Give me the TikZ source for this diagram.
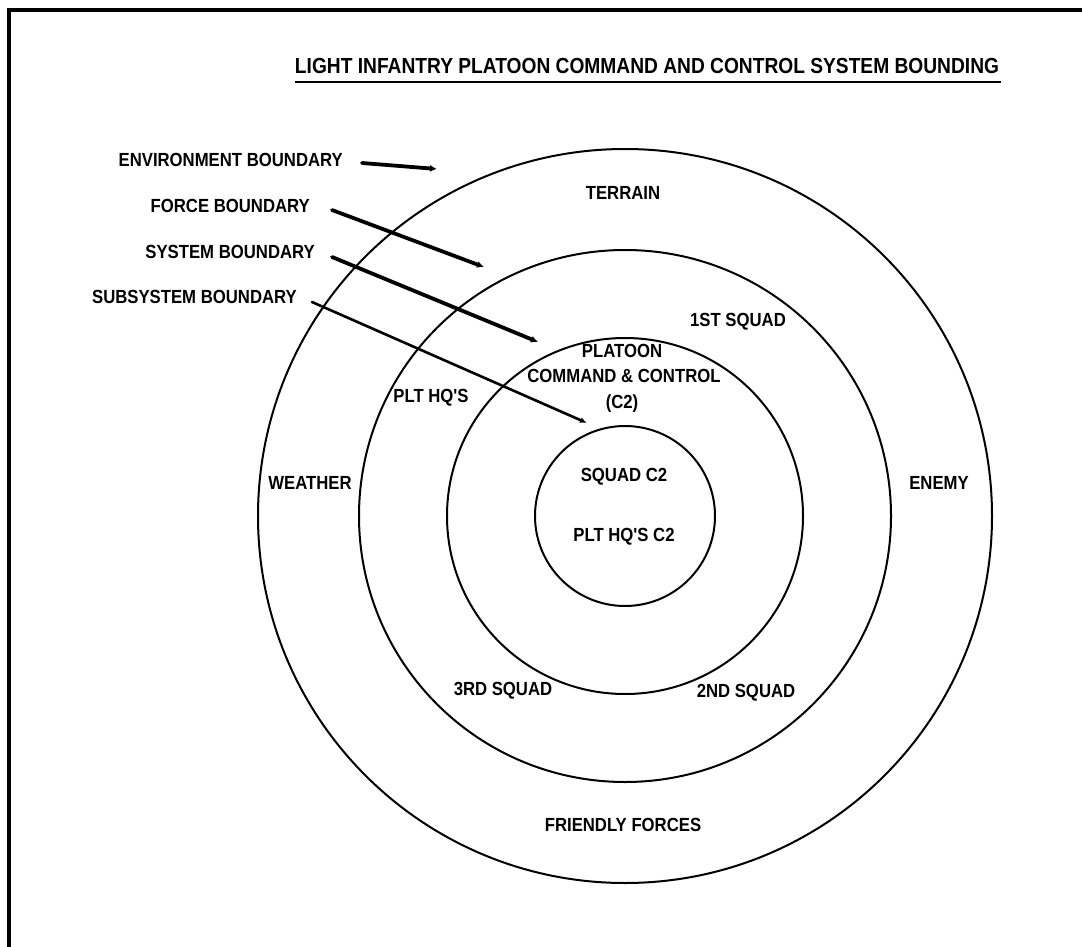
\documentclass[tikz,border=0pt]{standalone}
\usepackage{fontspec}
\newfontfamily\labfont{Liberation Sans}[FakeStretch=0.88]
\usetikzlibrary{arrows.meta,calc}
\begin{document}
\begin{tikzpicture}[x=1pt,y=-1pt,
  lab/.style={font=\labfont\bfseries\fontsize{19}{21}\selectfont, inner sep=0pt, align=center},
  titlelab/.style={font=\labfont\bfseries\fontsize{21.8}{24}\selectfont, inner sep=0pt},
  ring/.style={draw, line width=2pt},
  ptr/.style={line width=3.8pt, line cap=round, -{Latex[length=7pt,width=7pt]}},
  thinptr/.style={line width=2.6pt, line cap=round, -{Latex[length=7pt,width=6pt]}},
  frameline/.style={line width=3.5pt}
]
\useasboundingbox (0,0) rectangle (1082,947);
% frame (top and left edges visible)
\draw[frameline] (9,947) -- (9,10) -- (1082,10);

% title
\node[titlelab] (title) at (647,66) {LIGHT INFANTRY PLATOON COMMAND AND CONTROL SYSTEM BOUNDING};
\draw[line width=2pt] ($(title.south west)+(0,8)$) -- ($(title.south east)+(2,8)$);

% rings
\coordinate (ctr) at (625,516);
\draw[ring] (ctr) circle[radius=367];
\draw[ring] (ctr) circle[radius=266];
\draw[ring] (ctr) circle[radius=178];
\draw[ring] (ctr) circle[radius=90];

% boundary labels
\node[lab, anchor=east] (envlbl) at (343,160) {ENVIRONMENT BOUNDARY};
\node[lab, anchor=east] (forcelbl) at (310,206) {FORCE BOUNDARY};
\node[lab, anchor=east] (syslbl) at (315,252) {SYSTEM BOUNDARY};
\node[lab, anchor=east] (subsyslbl) at (297,297) {SUBSYSTEM BOUNDARY};

\coordinate (envtip) at (437,169);
\coordinate (forcetip) at (484,267);
\coordinate (systip) at (538,342);
\coordinate (subsystip) at (587,423);

\draw[ptr] ($(envlbl.east)+(19,3)$) -- (envtip);
\draw[ptr] ($(forcelbl.east)+(22,4)$) -- (forcetip);
\draw[ptr] ($(syslbl.east)+(17,5)$) -- (systip);
\draw[thinptr] ($(subsyslbl.east)+(15,5)$) -- (subsystip);

% ring labels
\node[lab] (terrain) at (623,193) {TERRAIN};
\node[lab] (weather) at (310,483) {WEATHER};
\node[lab] (enemy) at (939,483) {ENEMY};
\node[lab] (friendly) at (623,825) {FRIENDLY FORCES};
\node[lab] (sq1) at (738,322) {1ST SQUAD};
\node[lab] (plthq) at (431,398) {PLT HQ'S};
\node[lab] (sq3) at (503,691) {3RD SQUAD};
\node[lab] (sq2) at (746,693) {2ND SQUAD};
\node[lab] (platoon) at (622,351) {PLATOON};
\node[lab] (cc) at (624,376) {COMMAND \& CONTROL};
\node[lab] (c2) at (622,404) {(C2)};
\node[lab] (squadc2) at (624,477) {SQUAD C2};
\node[lab] (plthqc2) at (624,537) {PLT HQ'S C2};
\end{tikzpicture}
\end{document}
